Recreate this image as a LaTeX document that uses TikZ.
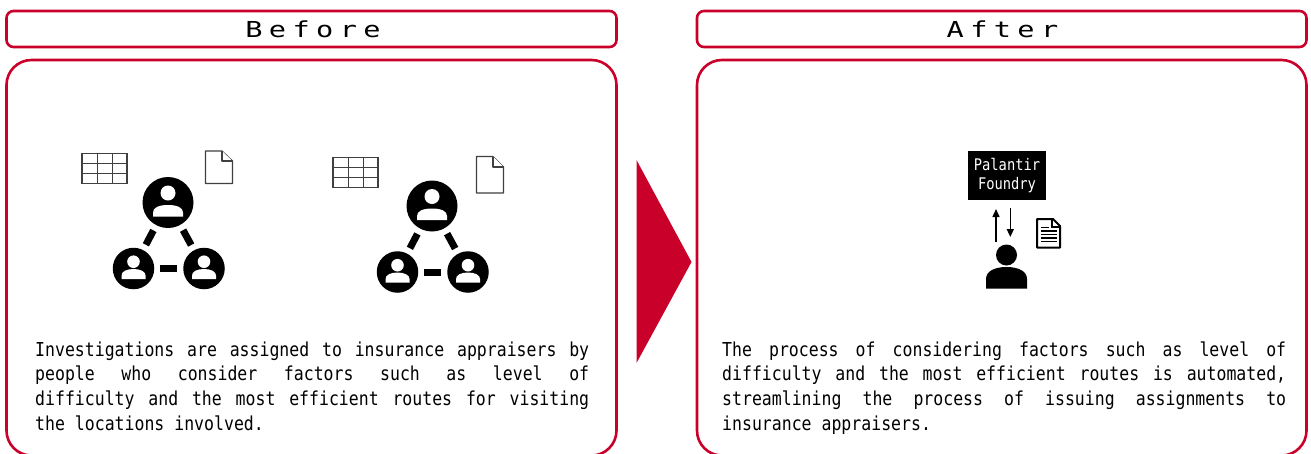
\documentclass[tikz,border=0pt]{standalone}
\usepackage{fontspec}
\setmainfont[FakeStretch=0.86]{DejaVu Sans Mono}
\newfontfamily\headfont[FakeStretch=1.3,LetterSpace=29]{DejaVu Sans Mono}
\usetikzlibrary{arrows.meta}
\definecolor{brandred}{HTML}{C8002A}
\newcommand{\jline}[2]{\hbox to #1pt{\spaceskip=0pt plus 1fil\relax #2}}
\tikzset{
  x=1pt,y=-1pt,
  panel/.style={draw=brandred,line width=2.6pt,fill=white},
  thead/.style={font=\headfont\fontsize{22}{26}\selectfont,inner sep=0pt,anchor=base},
  body/.style={font=\fontsize{19.2}{24.6}\selectfont,align=left,inner sep=0pt,anchor=north west},
  hub/.style={circle,fill=black,inner sep=0pt,outer sep=0pt,minimum size=#1},
  link/.style={line width=7pt,shorten >=6pt,shorten <=6pt},
  gridline/.style={draw=black!75,line width=1.3pt},
  pagefold/.style={draw=black!75,line width=1.2pt,fill=white,line join=round},
  flow/.style={line width=1.5pt,-{Triangle[length=8pt,width=7pt]}},
  person/.pic={
    \fill[white] (0,-9.5) circle[radius=7.5];
    \fill[white] (-15,14) -- (-15,10) .. controls (-15,5) and (-9,2.5) .. (0,2.5)
       .. controls (9,2.5) and (15,5) .. (15,10) -- (15,14) -- cycle;
  },
  person small/.pic={
    \fill[white] (0,-6.8) circle[radius=6.3];
    \fill[white] (-12,10.5) -- (-12,7) .. controls (-12,3) and (-7,0.5) .. (0,0.5)
       .. controls (7,0.5) and (12,3) .. (12,7) -- (12,10.5) -- cycle;
  },
}
\begin{document}
\begin{tikzpicture}
\useasboundingbox (0,0) rectangle (1311,453);
\begin{scope}
\clip (0,0) rectangle (1311,453);
% headers
\draw[panel,rounded corners=7pt] (6.5,11) rectangle (616.5,47);
\draw[panel,rounded corners=7pt] (697,11) rectangle (1306.5,47);
% panels
\draw[panel,rounded corners=25pt] (6.5,60) rectangle (616.5,455.5);
\draw[panel,rounded corners=25pt] (697,60) rectangle (1306.5,455.5);
\end{scope}
\node[thead] (tb) at (313,37.5) {Before};
\node[thead] (ta) at (1002.5,37.5) {After};
% big arrow
\fill[brandred] (636.5,160) -- (691.5,262) -- (636.5,363) -- cycle;
% group 1
\draw[gridline] (82,153.5) rectangle (127,183.5)
  (97.5,153.5) -- (97.5,183.5) (112.5,153.5) -- (112.5,183.5)
  (82,163.5) -- (127,163.5) (82,173.5) -- (127,173.5);
\draw[pagefold] (205.5,151) -- (222,151) -- (232.5,161) -- (232.5,183.5) -- (205.5,183.5) -- cycle;
\draw[pagefold] (222,151) -- (222,161) -- (232.5,161);
\node[hub=51pt] (a1) at (168,202.5) {};
\node[hub=41.5pt] (a2) at (133.5,268.5) {};
\node[hub=41.5pt] (a3) at (204,268.5) {};
\draw[link] (a1) -- (a2);
\draw[link] (a1) -- (a3);
\draw[link] (a2) -- (a3);
\pic at (a1) {person};
\pic at (a2) {person small};
\pic at (a3) {person small};
% group 2
\draw[gridline] (333,157.5) rectangle (378,187.5)
  (348.5,157.5) -- (348.5,187.5) (363.5,157.5) -- (363.5,187.5)
  (333,167.5) -- (378,167.5) (333,177.5) -- (378,177.5);
\draw[pagefold] (476.5,156.5) -- (493,156.5) -- (503.5,167) -- (503.5,193) -- (476.5,193) -- cycle;
\draw[pagefold] (493,156.5) -- (493,167) -- (503.5,167);
\node[hub=51pt] (b1) at (432,206) {};
\node[hub=41.5pt] (b2) at (397.5,272) {};
\node[hub=41.5pt] (b3) at (468,272) {};
\draw[link] (b1) -- (b2);
\draw[link] (b1) -- (b3);
\draw[link] (b2) -- (b3);
\pic at (b1) {person};
\pic at (b2) {person small};
\pic at (b3) {person small};
% captions
\node[body] (cb) at (35,341.5) {\jline{554}{Investigations are assigned to insurance appraisers by}\\
\jline{554}{people who consider factors such as level of}\\
\jline{554}{difficulty and the most efficient routes for visiting}\\
the locations involved.};
\node[body] (ca) at (722,341.5) {\jline{564}{The process of considering factors such as level of}\\
\jline{564}{difficulty and the most efficient routes is automated,}\\
\jline{564}{streamlining the process of issuing assignments to}\\
insurance appraisers.};
% after icon
\node[fill=black,text=white,minimum width=78.5pt,minimum height=49pt,inner sep=0pt,align=center,
  font=\fontsize{16}{19}\selectfont] (pf) at (1007,175.5) {Palantir\\Foundry};
\coordinate (upS) at (996,241.5);
\coordinate (upE) at (996,209);
\coordinate (dnS) at (1010.3,207.5);
\coordinate (dnE) at (1010.3,237);
\draw[flow] (upS) -- (upE);
\draw[flow] (dnS) -- (dnE);
\fill[black] (1006.5,255) circle[radius=10.5];
\fill[black] (986,288.5) -- (986,279) .. controls (986,271) and (995,267) .. (1006.5,267)
  .. controls (1018,267) and (1027,271) .. (1027,279) -- (1027,288.5) -- cycle;
\draw[black,line width=2pt,line join=round,fill=white] (1037,219) -- (1053,219) -- (1060,226) -- (1060,247.5) -- (1037,247.5) -- cycle;
\draw[black,line width=1.2pt] (1052,219) -- (1052,227) -- (1060,227);
\draw[black,line width=1.2pt] (1041,227.5) -- (1049,227.5)
  (1041,231) -- (1056.5,231) (1041,234.5) -- (1056.5,234.5)
  (1041,238) -- (1056.5,238) (1041,241.5) -- (1056.5,241.5);
\end{tikzpicture}
\end{document}
